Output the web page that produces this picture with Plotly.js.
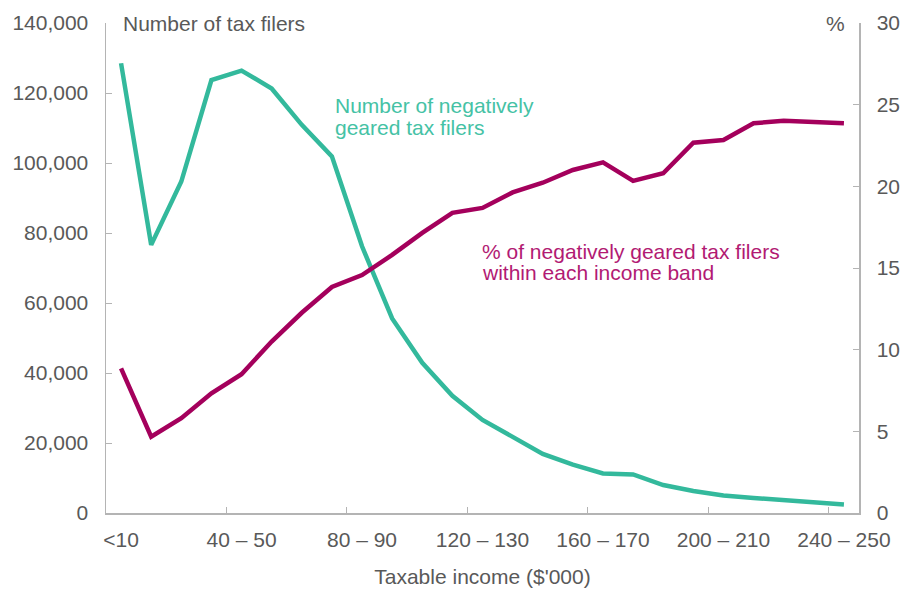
<!DOCTYPE html>
<html>
<head>
<meta charset="utf-8">
<script src="https://cdn.plot.ly/plotly-3.0.1.min.js"></script>
<style>html,body{margin:0;padding:0;background:#fff;}#chart{width:903px;height:590px;}</style>
</head>
<body>
<div id="chart"></div>
<script>
// Taxable income bands ($'000)
const categories = ["<10","10 – 20","20 – 30","30 – 40","40 – 50","50 – 60","60 – 70","70 – 80","80 – 90","90 – 100",
  "100 – 110","110 – 120","120 – 130","130 – 140","140 – 150","150 – 160","160 – 170","170 – 180","180 – 190","190 – 200",
  "200 – 210","210 – 220","220 – 230","230 – 240","240 – 250"];
// Number of negatively geared tax filers (left axis)
const numberFilers = [128500, 76600, 94700, 123700, 126400, 121300, 110900, 101900, 76200, 55600,
  42900, 33500, 26600, 21800, 16900, 13800, 11300, 11000, 8000, 6300,
  5000, 4300, 3600, 3100, 2400];
// % of negatively geared tax filers within each income band (right axis)
const pctFilers = [8.85, 4.67, 5.8, 7.33, 8.5, 10.5, 12.26, 13.84, 14.57, 15.8,
  17.15, 18.38, 18.68, 19.63, 20.22, 21.0, 21.47, 20.33, 20.8, 22.67,
  22.84, 23.86, 24.02, 23.94, 23.86];
const tickLabels = ["<10","40 – 50","80 – 90","120 – 130","160 – 170","200 – 210","240 – 250"];

const teal = "#33b99c";
const tealText = "#45c2a5";
const magenta = "#a4005c";
const magentaText = "#b21a73";
const grey = "#595959";
const axisGrey = "#b4b4b4";
const FONT = "Liberation Sans, Arial, sans-serif";

const traces = [
  {x: categories, y: numberFilers, type: "scatter", mode: "lines", name: "Number",
   line: {color: teal, width: 4.5}, yaxis: "y", hoverinfo: "skip"},
  {x: categories, y: pctFilers, type: "scatter", mode: "lines", name: "Percent",
   line: {color: magenta, width: 4.5}, yaxis: "y2", hoverinfo: "skip"}
];

function note(text, x, y, color) {
  return {text: text, xref: "paper", yref: "paper", x: x, y: y,
          xanchor: "left", yanchor: "middle", align: "left", showarrow: false,
          font: {family: FONT, size: 21, color: color}};
}

const layout = {
  width: 903, height: 590,
  margin: {l: 106, r: 44, t: 23, b: 77, pad: 0},
  paper_bgcolor: "#ffffff", plot_bgcolor: "#ffffff",
  showlegend: false,
  font: {family: FONT, size: 21, color: grey},
  xaxis: {
    type: "category", categoryorder: "array", categoryarray: categories,
    range: [-0.5, 24.5],
    tickmode: "array", tickvals: tickLabels, ticktext: tickLabels,
    tickson: "boundaries", tickangle: 0,
    ticks: "inside", ticklen: 6, tickcolor: axisGrey, tickwidth: 1,
    showline: true, linecolor: axisGrey, linewidth: 1.5,
    showgrid: false, zeroline: false,
    tickfont: {family: FONT, size: 21, color: grey},
    ticklabelstandoff: 7,
    title: {text: "Taxable income ($'000)", font: {family: FONT, size: 21, color: grey}, standoff: 19}
  },
  yaxis: {
    range: [0, 140000], dtick: 20000, tick0: 0, tickformat: ",d",
    ticks: "inside", ticklen: 6, tickcolor: axisGrey, tickwidth: 1,
    showline: true, linecolor: axisGrey, linewidth: 1.5,
    showgrid: false, zeroline: false,
    tickfont: {family: FONT, size: 21, color: grey},
    ticklabelstandoff: 12
  },
  yaxis2: {
    range: [0, 30], dtick: 5, tick0: 0,
    overlaying: "y", side: "right",
    ticks: "inside", ticklen: 6, tickcolor: axisGrey, tickwidth: 1,
    showline: true, linecolor: axisGrey, linewidth: 1.5,
    showgrid: false, zeroline: false,
    tickfont: {family: FONT, size: 21, color: grey},
    ticklabelstandoff: 12
  },
  annotations: [
    note("Number of tax filers", 0.02, 1.0, grey),
    Object.assign(note("%", 1.0, 1.0, grey), {xanchor: "right", xshift: -12}),
    note("Number of negatively", 0.301, 0.8307, tealText),
    note("geared tax filers", 0.301, 0.7867, tealText),
    note("% of negatively geared tax filers", 0.4967, 0.5327, magentaText),
    note("within each income band", 0.4967, 0.4898, magentaText)
  ]
};

Plotly.newPlot("chart", traces, layout, {displayModeBar: false, staticPlot: true});
</script>
</body>
</html>
